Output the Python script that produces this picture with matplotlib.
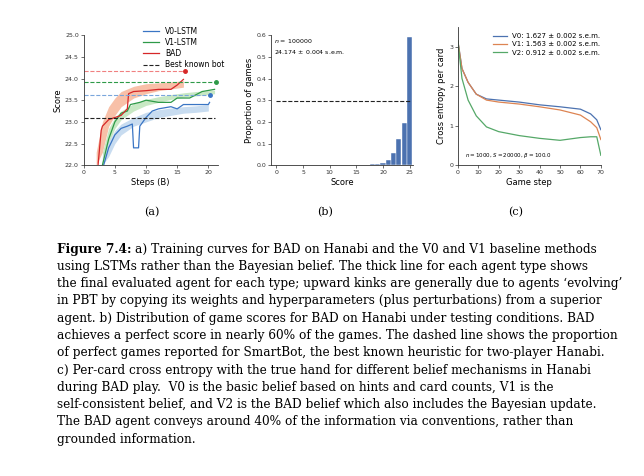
import matplotlib
matplotlib.use("Agg")
import matplotlib.pyplot as plt
import numpy as np

# Panel a data
bad_x = [2.3, 2.8, 3.0, 4.0, 5.0, 6.0, 7.0, 7.2, 8.0, 10.0, 12.0, 14.0, 15.0, 16.0]
bad_y = [22.0, 22.8, 22.9, 23.05, 23.1, 23.15, 23.3, 23.65, 23.7, 23.72, 23.75, 23.75, 23.85, 23.98]
v1_x = [3.0, 4.0, 5.0, 6.0, 7.0, 7.5, 9.0, 10.0, 12.0, 14.0, 15.0, 17.0, 19.0, 21.0]
v1_y = [22.0, 22.6, 23.0, 23.2, 23.25, 23.4, 23.45, 23.5, 23.45, 23.45, 23.55, 23.55, 23.7, 23.75]
v0_x = [3.2, 4.0, 5.0, 6.0, 7.0, 7.8, 8.0, 8.8, 9.0, 10.0, 11.0, 12.0, 14.0, 15.0, 16.0, 18.0, 20.0, 20.2]
v0_y = [22.0, 22.4, 22.7, 22.85, 22.9, 22.95, 22.4, 22.4, 22.9, 23.1, 23.25, 23.3, 23.35, 23.3, 23.4, 23.4, 23.4, 23.45]
band_x = [2.0, 3.0, 4.0, 5.0, 6.0, 8.0, 10.0, 12.0, 14.0, 16.0, 18.0, 20.0, 21.0]
bad_lo = [22.0, 22.3, 22.9, 23.15, 23.35, 23.55, 23.65, 23.72, 23.76, 23.8, np.nan, np.nan, np.nan]
bad_hi = [22.3, 23.0, 23.35, 23.55, 23.7, 23.82, 23.88, 23.9, 23.92, 23.95, np.nan, np.nan, np.nan]
v1_lo = [np.nan, 22.0, 22.5, 22.85, 23.05, 23.25, 23.38, 23.45, 23.52, 23.57, 23.6, 23.63, 23.65]
v1_hi = [np.nan, 22.3, 22.85, 23.1, 23.25, 23.42, 23.52, 23.58, 23.63, 23.67, 23.7, 23.72, 23.73]
v0_lo = [np.nan, 22.0, 22.2, 22.5, 22.7, 22.9, 23.0, 23.1, 23.15, 23.2, 23.22, 23.25, np.nan]
v0_hi = [np.nan, 22.2, 22.55, 22.8, 22.95, 23.1, 23.22, 23.28, 23.32, 23.35, 23.37, 23.4, np.nan]
best = {"BAD": 24.18, "V1": 23.93, "V0": 23.63}
best_end = {"BAD": 16.3, "V1": 21.2, "V0": 20.2}
smartbot = 23.1

# Panel b data
scores = [16, 17, 18, 19, 20, 21, 22, 23, 24, 25]
props = [0.001, 0.002, 0.004, 0.007, 0.012, 0.024, 0.058, 0.12, 0.193, 0.59]
smartbot_perfect = 0.296

# Panel c data
steps = [0, 2, 5, 9, 14, 20, 30, 40, 50, 60, 65, 68, 70]
ce_v0 = [3.15, 2.45, 2.1, 1.8, 1.68, 1.65, 1.6, 1.53, 1.48, 1.42, 1.3, 1.15, 0.9]
ce_v1 = [3.15, 2.45, 2.1, 1.8, 1.65, 1.6, 1.55, 1.48, 1.4, 1.27, 1.1, 0.95, 0.65]
ce_v2 = [3.15, 2.2, 1.65, 1.25, 0.97, 0.85, 0.75, 0.68, 0.63, 0.7, 0.72, 0.72, 0.25]

BLUE, GREEN, RED = "#3a75c4", "#2e9a48", "#d62728"

fig = plt.figure(figsize=(6.44, 4.76), dpi=100)

def style(ax):
    for s in ("top", "right"):
        ax.spines[s].set_visible(False)
    for s in ("left", "bottom"):
        ax.spines[s].set_linewidth(0.6)
        ax.spines[s].set_color("#333333")
    ax.tick_params(labelsize=4.5, length=2, width=0.5, pad=1.5, colors="#333333")

# (a)
ax = fig.add_axes([0.130, 0.653, 0.208, 0.273])
style(ax)
ax.fill_between(band_x, bad_lo, bad_hi, color="#f8c0a8", lw=0)
ax.fill_between(band_x, v1_lo, v1_hi, color="#c8e8c4", lw=0)
ax.fill_between(band_x, v0_lo, v0_hi, color="#c8dcf0", lw=0)
ax.plot(v0_x, v0_y, color=BLUE, lw=0.9, label="V0-LSTM")
ax.plot(v1_x, v1_y, color=GREEN, lw=0.9, label="V1-LSTM")
ax.plot(bad_x, bad_y, color=RED, lw=0.9, label="BAD")
ax.plot([0, best_end["BAD"]], [best["BAD"]] * 2, ls="--", color="#f08080", lw=0.8)
ax.plot([0, best_end["V1"]], [best["V1"]] * 2, ls="--", color=GREEN, lw=0.8)
ax.plot([0, best_end["V0"]], [best["V0"]] * 2, ls="--", color="#7aa6dc", lw=0.8)
ax.plot(best_end["BAD"], best["BAD"], "o", color=RED, ms=2.5)
ax.plot(best_end["V1"], best["V1"], "o", color=GREEN, ms=2.5)
ax.plot(best_end["V0"], best["V0"], "o", color=BLUE, ms=2.5)
ax.plot([0, 21], [smartbot] * 2, ls="--", color="#222222", lw=0.8, label="Best known bot")
ax.set_xlim(0, 21.5)
ax.set_ylim(22, 25)
ax.set_xticks([0, 5, 10, 15, 20])
ax.set_yticks(np.arange(22, 25.01, 0.5))
ax.set_xlabel("Steps (B)", fontsize=6, labelpad=2)
ax.set_ylabel("Score", fontsize=6, labelpad=2)
h, l = ax.get_legend_handles_labels()
ax.legend(h, l, fontsize=5.5, frameon=False, loc="upper right", bbox_to_anchor=(1.1, 1.12),
          handlelength=2, labelspacing=0.3)

# (b)
bx = fig.add_axes([0.421, 0.653, 0.22, 0.273])
style(bx)
bx.bar(scores, props, width=0.95, color="#4c72b0", edgecolor="white", lw=0.3)
bx.plot([0, 25], [smartbot_perfect] * 2, ls="--", color="#222222", lw=0.8)
bx.set_xlim(-1, 25.6)
bx.set_ylim(0, 0.6)
bx.set_xticks([0, 5, 10, 15, 20, 25])
bx.set_yticks(np.arange(0, 0.61, 0.1))
bx.set_xlabel("Score", fontsize=6, labelpad=2)
bx.set_ylabel("Proportion of games", fontsize=6, labelpad=2)
bx.text(0.02, 0.99, "$n$ = 100000\n24.174 $\\pm$ 0.004 s.e.m.", transform=bx.transAxes,
        fontsize=4.5, va="top", linespacing=1.6)

# (c)
cx = fig.add_axes([0.711, 0.653, 0.222, 0.29])
style(cx)
cx.plot(steps, ce_v0, color="#4c72b0", lw=0.9, label="V0: 1.627 \u00b1 0.002 s.e.m.")
cx.plot(steps, ce_v1, color="#dd8452", lw=0.9, label="V1: 1.563 \u00b1 0.002 s.e.m.")
cx.plot(steps, ce_v2, color="#55a868", lw=0.9, label="V2: 0.912 \u00b1 0.002 s.e.m.")
cx.set_xlim(0, 70)
cx.set_ylim(0, 3.5)
cx.set_xticks(range(0, 71, 10))
cx.set_yticks([0, 1, 2, 3])
cx.set_xlabel("Game step", fontsize=6, labelpad=2)
cx.set_ylabel("Cross entropy per card", fontsize=6, labelpad=2)
cx.legend(fontsize=5, frameon=False, loc="upper right", bbox_to_anchor=(1.04, 1.0),
          handlelength=2, labelspacing=0.3)
cx.text(0.05, 0.06, "$n = 1000$, $S = 20000$, $\\beta = 100.0$", transform=cx.transAxes,
        fontsize=4)

for x, lab in [(0.236, "(a)"), (0.505, "(b)"), (0.80, "(c)")]:
    fig.text(x, 1 - 212 / 476, lab, ha="center", va="center", family="DejaVu Serif", fontsize=8)

lines = [
    "using LSTMs rather than the Bayesian belief. The thick line for each agent type shows",
    "the final evaluated agent for each type; upward kinks are generally due to agents \u2018evolving\u2019",
    "in PBT by copying its weights and hyperparameters (plus perturbations) from a superior",
    "agent. b) Distribution of game scores for BAD on Hanabi under testing conditions. BAD",
    "achieves a perfect score in nearly 60% of the games. The dashed line shows the proportion",
    "of perfect games reported for SmartBot, the best known heuristic for two-player Hanabi.",
    "c) Per-card cross entropy with the true hand for different belief mechanisms in Hanabi",
    "during BAD play.  V0 is the basic belief based on hints and card counts, V1 is the",
    "self-consistent belief, and V2 is the BAD belief which also includes the Bayesian update.",
    "The BAD agent conveys around 40% of the information via conventions, rather than",
    "grounded information.",
]
y0 = 1 - 249 / 476
fs = 8.7
t = fig.text(57 / 644, y0, "Figure 7.4:", fontsize=fs, family="DejaVu Serif", weight="bold", va="center")
fig.canvas.draw()
bb = t.get_window_extent(fig.canvas.get_renderer())
fig.text(bb.x1 / 644 + 0.006, y0, "a) Training curves for BAD on Hanabi and the V0 and V1 baseline methods",
         fontsize=fs, family="DejaVu Serif", va="center")
for i, ln in enumerate(lines):
    fig.text(57 / 644, y0 - (i + 1) * 17.3 / 476, ln, fontsize=fs, family="DejaVu Serif", va="center")

fig.savefig("out.png", dpi=100)
